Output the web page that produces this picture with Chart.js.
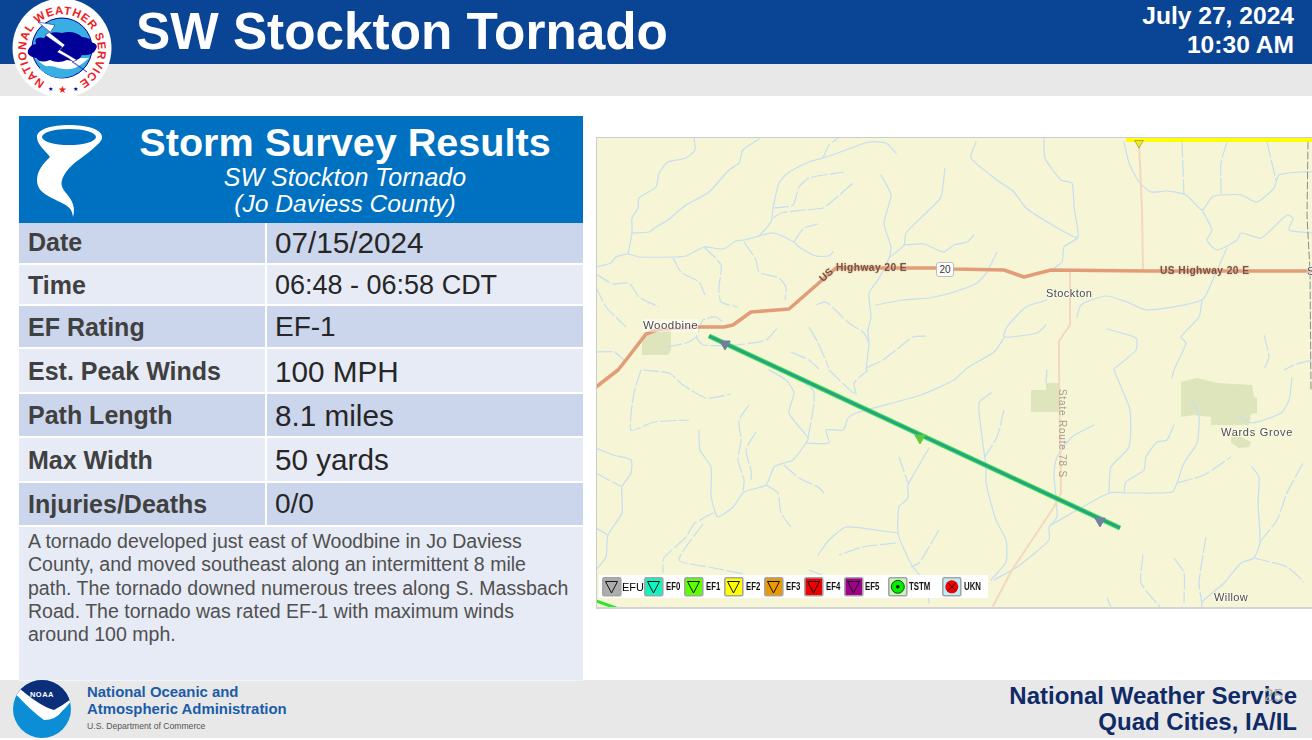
<!DOCTYPE html>
<html><head><meta charset="utf-8">
<script src="https://cdn.jsdelivr.net/npm/chart.js@4"></script>
<style>
html,body{margin:0;padding:0;background:#fff;width:1312px;height:740px;overflow:hidden;font-family:"Liberation Sans",Arial,sans-serif}
.a{position:absolute;white-space:nowrap}
.band{position:absolute;left:0;width:1312px}
.row{position:absolute;left:19px;width:564px}
.lab{position:absolute;left:28px;font-weight:bold;font-size:25px;color:#404040;white-space:nowrap}
.val{position:absolute;left:275px;font-size:29.7px;color:#262626;white-space:nowrap}
.desc{position:absolute;left:28px;font-size:19.55px;color:#505050;white-space:nowrap;line-height:21px}
.ml{position:absolute;white-space:nowrap;font-size:11.5px;color:#4a4a4a;letter-spacing:.45px;text-shadow:0 0 2px #fff,0 0 2px #fff,0 0 2px #fff;line-height:13px}
.hw{position:absolute;white-space:nowrap;font-size:10.2px;font-weight:bold;color:#75544a;letter-spacing:.45px;line-height:12px;text-shadow:0 0 2px #e8b090}
.leg{position:absolute;font-size:9px;font-weight:bold;color:#111;top:581px;line-height:12px;white-space:nowrap;transform:scale(.87,1.15);transform-origin:left center}
</style></head><body>

<div class="band" style="top:0;height:64px;background:#0A4595"></div>
<div class="band" style="top:64px;height:32px;background:#E8E8E8"></div>
<div class="a" style="left:136px;top:3px;font-size:51.3px;font-weight:bold;color:#fff;line-height:58px">SW Stockton Tornado</div>
<div class="a" style="right:18px;top:1px;font-size:24.6px;font-weight:bold;color:#fff;line-height:29px;text-align:right">July 27, 2024<br>10:30 AM</div>

<svg class="a" style="left:0;top:0" width="125" height="100" viewBox="0 0 125 100">
<circle cx="62" cy="48" r="49.5" fill="#fff"/>
<path id="ring" d="M45,82 A36,36 0 1 1 79,82" fill="none"/>
<text font-size="11.5" font-weight="bold" fill="#EE1C25" font-family="Liberation Sans"><textPath href="#ring" textLength="190" lengthAdjust="spacing">NATIONAL WEATHER SERVICE</textPath></text>
<circle cx="62" cy="48" r="30" fill="#39AEE3" stroke="#000099" stroke-width="1"/>
<path d="M35,58 Q62,84 89,58 Z" fill="#fff"/>
<path d="M39,68 Q50,64 58,68 Q68,71 84,66 Q74,78 62,78 Q48,78 39,68Z" fill="#39AEE3"/>
<path d="M28,50 Q31,44 36,44 Q33,36 44,38 Q50,30 62,33 Q74,30 82,37 Q92,38 91,42 Q99,44 96,49 Q93,56 82,55 Q78,63 67,60 Q58,64 50,60 Q40,64 36,58 Q26,56 28,50Z" fill="#000099"/>
<path d="M38,22 L55,25 L50,33 L65,45 L60,50 L77,60 L72,62 L87,72 L68,58 L57,52 L62,47 L45,35 L50,32Z" fill="#fff" stroke="#000099" stroke-width=".5"/>
<text x="62" y="93" font-size="10" fill="#EE1C25" text-anchor="middle">★</text>
<text x="50" y="91" font-size="6" fill="#000099" text-anchor="middle">★</text>
<text x="75" y="91" font-size="6" fill="#000099" text-anchor="middle">★</text>
</svg>

<div class="a" style="left:19px;top:116px;width:564px;height:107px;background:#0070C0"></div>
<div class="a" style="left:0;width:690px;text-align:center;top:119px;font-size:39.6px;font-weight:bold;color:#fff;line-height:46px">Storm Survey Results</div>
<div class="a" style="left:0;width:690px;text-align:center;top:164px;font-size:25px;font-style:italic;color:#fff;line-height:26px">SW Stockton Tornado<br><span style="font-size:24.6px">(Jo Daviess County)</span></div>
<svg class="a" style="left:30px;top:120px" width="80" height="102" viewBox="30 120 80 102">
<path d="M37,137 C37,129 52,125 69,125 C86,125 102,129 102,137 C102,141 99,143 96,146 C86,156 74,161 66,172 C60,181 60,186 66,193 C72,200 76,207 73,217 C72,208 68,206 60,202 C48,196 37,192 37,180 C37,170 44,163 50,157 C46,151 37,145 37,137Z" fill="#fff"/>
<ellipse cx="69" cy="137" rx="27" ry="8" fill="#0070C0"/>
</svg>

<div class="row" style="top:223px;height:40px;background:#CBD5EB"></div>
<div class="row" style="top:265px;height:39px;background:#E7EBF5"></div>
<div class="row" style="top:306px;height:41px;background:#CBD5EB"></div>
<div class="row" style="top:349px;height:43px;background:#E7EBF5"></div>
<div class="row" style="top:394px;height:42px;background:#CBD5EB"></div>
<div class="row" style="top:438px;height:43px;background:#E7EBF5"></div>
<div class="row" style="top:483px;height:42px;background:#CBD5EB"></div>
<div class="row" style="top:527px;height:153px;background:#E7EBF5"></div>
<div class="a" style="left:265px;top:223px;width:2px;height:302px;background:#fff"></div>

<div class="lab" style="top:228px">Date</div><div class="val" style="top:226px">07/15/2024</div>
<div class="lab" style="top:271px">Time</div><div class="val" style="top:270px;font-size:27px">06:48 - 06:58 CDT</div>
<div class="lab" style="top:313px">EF Rating</div><div class="val" style="top:311px;font-size:28px">EF-1</div>
<div class="lab" style="top:357px">Est. Peak Winds</div><div class="val" style="top:355px">100 MPH</div>
<div class="lab" style="top:401px">Path Length</div><div class="val" style="top:399px">8.1 miles</div>
<div class="lab" style="top:446px">Max Width</div><div class="val" style="top:443px">50 yards</div>
<div class="lab" style="top:490px">Injuries/Deaths</div><div class="val" style="top:488px;font-size:28px">0/0</div>

<div class="desc" style="top:531px">A tornado developed just east of Woodbine in Jo Daviess</div>
<div class="desc" style="top:554px">County, and moved southeast along an intermittent 8 mile</div>
<div class="desc" style="top:578px">path. The tornado downed numerous trees along S. Massbach</div>
<div class="desc" style="top:601px">Road. The tornado was rated EF-1 with maximum winds</div>
<div class="desc" style="top:624px">around 100 mph.</div>

<div class="a" id="map" style="left:596px;top:138px;width:716px;height:470px;background:#F6F5D5"><canvas id="c" width="716" height="470" style="display:block"></canvas></div>
<div class="a" style="left:596px;top:137px;width:716px;height:1px;background:#ccc"></div>
<div class="a" style="left:596px;top:607px;width:716px;height:2px;background:#d4d4d4"></div>
<div class="a" style="left:596px;top:137px;width:1px;height:471px;background:#ccc"></div>

<div class="ml" style="left:643px;top:319px;background:rgba(255,255,255,.45)">Woodbine</div>
<div class="ml" style="left:1046px;top:287px;font-size:11px">Stockton</div>
<div class="ml" style="left:1221px;top:426px;font-size:11px;letter-spacing:.7px">Wards Grove</div>
<div class="ml" style="left:1214px;top:591px;font-size:11px;letter-spacing:.4px">Willow</div>
<div class="ml" style="left:1307px;top:265px;font-size:11px">S</div>
<div class="hw" style="left:836px;top:262px">Highway 20 E</div>
<div class="hw" style="left:819px;top:269px;transform:rotate(-42deg)">US</div>
<div class="hw" style="left:1160px;top:265px">US Highway 20 E</div>
<div class="hw" style="left:1024px;top:421px;width:76px;text-align:center;transform:rotate(90deg);font-weight:normal;color:#a79a8e;text-shadow:none;font-size:10px;letter-spacing:.8px">State Route 78 S</div>
<div class="a" style="left:936px;top:262px;width:18px;height:15px;background:#fff;border:1px solid #bbb;border-radius:3px;font-size:10px;line-height:14px;text-align:center;color:#333;box-sizing:border-box">20</div>

<div class="a" style="left:599px;top:575px;width:389px;height:23px;background:#fff"></div>
<svg class="a" style="left:600px;top:575px" width="370" height="24" viewBox="600 575 370 24">
<defs><g id="t"><rect x=".8" y=".8" width="18" height="18" rx="1.5" stroke="#a5a5a5" stroke-width="1.6"/><path d="M3.5,4.5 H15.5 L9.5,16Z" fill="none" stroke="#111" stroke-width="1"/></g></defs>
<use href="#t" x="602" y="577" fill="#ACACAC"/>
<use href="#t" x="644" y="577" fill="#10F5C0"/>
<use href="#t" x="684" y="577" fill="#5CFF00"/>
<use href="#t" x="724" y="577" fill="#FFFF00"/>
<use href="#t" x="764" y="577" fill="#E89A00"/>
<use href="#t" x="804" y="577" fill="#EE0000"/>
<use href="#t" x="844" y="577" fill="#A0008A"/>
<rect x="888.8" y="577.8" width="18" height="18" rx="1.5" fill="#C9F5B8" stroke="#a5a5a5" stroke-width="1.6"/>
<circle cx="897.8" cy="586.8" r="6.5" fill="#00F000" stroke="#111" stroke-width=".8"/><circle cx="897.8" cy="586.8" r="1.8" fill="#111"/>
<rect x="942.8" y="577.8" width="18" height="18" rx="1.5" fill="#B8EEFB" stroke="#a5a5a5" stroke-width="1.6"/>
<circle cx="951.8" cy="586.8" r="6.5" fill="#F00000"/><path d="M948,583 L955.6,590.6 M955.6,583 L948,590.6" stroke="#111" stroke-width=".9"/>
</svg>
<div class="leg" style="left:622px;font-weight:normal;font-size:11px;color:#000;transform:none">EFU</div>
<div class="leg" style="left:666px">EF0</div><div class="leg" style="left:706px">EF1</div>
<div class="leg" style="left:746px">EF2</div><div class="leg" style="left:786px">EF3</div>
<div class="leg" style="left:826px">EF4</div><div class="leg" style="left:865px">EF5</div>
<div class="leg" style="left:909px">TSTM</div><div class="leg" style="left:964px">UKN</div>

<div class="band" style="top:680px;height:58px;background:#E8E8E8"></div>
<div class="a" style="left:19px;top:680px;width:564px;height:1px;background:#f4f4f8"></div>
<svg class="a" style="left:10px;top:680px" width="66" height="60" viewBox="10 680 66 60">
<defs><clipPath id="nc"><circle cx="42" cy="709" r="29"/></clipPath></defs>
<g clip-path="url(#nc)"><rect x="10" y="680" width="66" height="60" fill="#0B8ED6"/>
<path d="M10,680 H76 V695 Q62,712 50,712 Q35,706 10,692Z" fill="#0C2F7C"/>
<path d="M10,692 Q26,700 38,712 Q44,718 52,718 Q62,714 76,695 Q64,705 54,710 Q38,706 10,680Z" fill="#fff"/>
<path d="M14,692 Q30,710 44,720 Q56,720 62,711 Q50,712 42,708 Q28,700 14,692Z" fill="#fff"/></g>
<text x="42" y="697" font-size="7.5" font-weight="bold" fill="#fff" text-anchor="middle" letter-spacing=".5">NOAA</text>
</svg>
<div class="a" style="left:87px;top:684px;font-size:14.9px;font-weight:bold;color:#1A5CA8;line-height:17px">National Oceanic and<br>Atmospheric Administration</div>
<div class="a" style="left:87px;top:721px;font-size:8.65px;color:#555;line-height:10px">U.S. Department of Commerce</div>
<div class="a" style="right:15px;top:683px;text-align:right;font-size:24px;font-weight:bold;color:#0F2A66;line-height:26px">National Weather Service<br>Quad Cities, IA/IL</div>
<div class="a" style="left:1264px;top:687px;font-size:17px;color:#aaa;line-height:18px">25</div>

<script>
// Map layers, in map grid units
const river01=[[694,138],[695,150],[686,158],[668,162],[659,173],[656,187],[639,198],[638,208],[632,218],[632,233],[628,254]];
const river02=[[596,267],[611,263],[616,257],[628,254],[639,257],[673,257],[686,256],[704,247],[723,249],[736,241],[744,240],[759,236],[774,233],[794,242],[799,247],[816,256],[829,256],[833,252]];
const river03=[[759,236],[771,222],[773,208],[779,183],[788,173],[809,162],[823,158],[846,150],[869,142],[886,143],[896,153]];
const river04=[[773,218],[781,213],[803,210],[823,208],[836,198],[853,183]];
const river05=[[773,208],[793,205],[799,187],[809,178],[844,172]];
const river06=[[632,233],[649,232],[656,227],[668,220],[686,205],[709,192],[729,170],[739,163],[743,150],[759,139]];
const river07=[[823,158],[829,145],[838,138]];
const river08=[[794,242],[804,228],[818,224]];
const river09=[[744,242],[756,260],[759,272],[779,278],[786,287],[785,300]];
const river10=[[704,247],[721,265],[719,287],[721,302],[738,307]];
const river11=[[673,258],[681,272],[699,282],[705,295]];
const river12=[[596,274],[613,284],[629,283],[639,297],[659,307]];
const river13=[[596,287],[606,307],[626,327]];
const river14=[[881,175],[891,195],[884,223],[891,247],[889,258],[878,280],[869,293],[871,317],[868,330],[869,343],[866,370]];
const river15=[[889,258],[904,245],[906,233],[929,210],[941,197],[945,168]];
const river16=[[904,245],[924,244],[943,252],[954,245],[967,242],[974,235]];
const river17=[[876,305],[903,300],[929,298],[954,292],[977,283],[987,272],[997,252]];
const river18=[[816,305],[826,302],[849,323],[864,333],[869,343]];
const river19=[[809,327],[818,343],[829,368]];
const river20=[[791,352],[809,360],[819,369]];
const river21=[[866,368],[883,360],[896,350],[913,337],[926,336]];
const river22=[[666,347],[686,343],[696,337],[703,320],[716,317],[724,323]];
const river23=[[696,337],[703,345],[736,345],[766,340],[778,327]];
const river24=[[596,352],[614,352],[624,360]];
const river25=[[976,142],[971,158],[997,180],[1014,192],[1026,208],[1049,223],[1074,237],[1077,237]];
const river26=[[1044,138],[1045,158],[1061,180],[1072,183],[1074,207],[1078,237],[1064,247],[1062,262],[1051,270]];
const river27=[[1124,142],[1129,163],[1139,182],[1151,192],[1167,191],[1186,195],[1202,210],[1212,197],[1221,195],[1241,195],[1257,202],[1274,188],[1279,175],[1301,172],[1312,172]];
const river28=[[1182,142],[1184,195]];
const river29=[[1227,142],[1221,163],[1221,195]];
const river30=[[1267,142],[1276,180]];
const river31=[[1202,210],[1212,230],[1207,240],[1217,250],[1237,240],[1241,233],[1261,238],[1274,227],[1287,215],[1293,218],[1289,230],[1312,233]];
const river32=[[1227,248],[1214,277],[1202,300],[1147,310],[1127,302],[1106,296],[1081,305],[1077,317]];
const river33=[[1202,300],[1199,317],[1181,337],[1186,343],[1174,370],[1172,378]];
const river34=[[1047,300],[1026,307],[1007,327],[1004,337],[1037,333],[1046,325]];
const river35=[[1004,338],[994,352],[967,368],[954,380],[921,395],[896,402],[856,413],[848,418],[843,430],[826,430],[829,443],[806,443]];
const river36=[[1107,329],[1136,338],[1136,350],[1114,369],[1114,370],[1121,387],[1130,410],[1129,447],[1111,467],[1109,493]];
const river37=[[1264,335],[1269,357],[1264,369]];
const river38=[[1312,360],[1294,365],[1284,370]];
const river39=[[641,370],[634,393],[631,430],[654,422],[689,420]];
const river40=[[596,448],[613,455],[631,460],[631,473],[622,487],[622,513],[608,535],[606,557],[596,570]];
const river41=[[596,473],[622,487]];
const river42=[[596,528],[608,535]];
const river43=[[643,370],[669,373],[683,385],[706,398],[731,394]];
const river44=[[699,430],[700,450],[711,467],[711,495],[715,512],[718,517],[733,507],[744,492],[766,485],[774,467],[784,463],[793,460],[806,443],[808,438],[789,413],[794,393],[786,380],[769,370]];
const river45=[[808,438],[814,403],[813,390],[796,377]];
const river46=[[749,405],[739,420],[741,440],[738,460],[744,480],[743,492]];
const river47=[[756,432],[746,450],[751,470],[751,480]];
const river48=[[829,370],[856,395],[854,383],[868,370]];
const river49=[[784,465],[799,478],[818,487],[824,493]];
const river50=[[766,485],[778,493],[781,513],[791,527]];
const river51=[[713,513],[694,524],[686,537],[664,558],[663,573]];
const river52=[[703,524],[679,560],[709,567],[744,574]];
const river53=[[929,448],[918,467],[908,485],[908,498],[899,507],[898,533],[903,547],[913,567],[926,583],[929,603]];
const river54=[[899,457],[908,483]];
const river55=[[898,533],[876,530],[846,527],[829,540],[818,555]];
const river56=[[896,543],[863,547],[839,555]];
const river57=[[939,530],[929,547],[919,563],[911,567]];
const river58=[[809,570],[829,578]];
const river59=[[991,393],[979,403],[982,437],[986,467],[986,483],[996,520],[1006,540],[1006,562],[991,580]];
const river60=[[1004,410],[997,437],[984,458]];
const river61=[[1047,370],[1046,383]];
const river62=[[1094,425],[1072,437],[1057,457],[1054,473],[1057,517],[1049,527],[1049,540],[1017,567],[994,580]];
const river63=[[1051,525],[1109,493],[1131,493],[1172,492],[1177,483],[1184,463],[1197,443],[1199,417],[1192,398]];
const river64=[[1124,493],[1126,482],[1144,470],[1146,457],[1157,442],[1167,440],[1174,425]];
const river65=[[1177,483],[1204,475],[1231,457]];
const river66=[[1252,467],[1259,477],[1258,503],[1260,542],[1254,558],[1241,563],[1224,583],[1202,602],[1202,608]];
const river67=[[1254,558],[1287,567],[1304,582]];
const river68=[[1260,542],[1277,520],[1287,493],[1303,463]];
const river69=[[1206,537],[1199,583],[1202,603]];
const river70=[[1174,558],[1184,573],[1184,603]];
const river71=[[1143,555],[1141,583],[1161,608]];
const river72=[[1292,378],[1289,400],[1281,413],[1252,423],[1237,415]];
const river73=[[1107,598],[1111,607]];
const riverPaths=[river01,river02,river03,river06,river14,river15,river16,river17,river25,river26,river27,river31,river32,river33,river34,river35,river36,river40,river44,river53,river55,river59,river62,river63,river64,river66,river72];
const creekPaths=[river04,river05,river07,river08,river09,river10,river11,river12,river13,river18,river19,river20,river21,river22,river23,river24,river28,river29,river30,river37,river38,river39,river41,river42,river43,river45,river46,river47,river48,river49,river50,river51,river52,river54,river56,river57,river58,river60,river61,river65,river67,river68,river69,river70,river71,river73];

const highway20=[[596,387],[618,370],[626,360],[646,334],[659,329],[699,327],[724,327],[733,325],[751,312],[789,309],[836,268],[936,268],[954,269],[1004,270],[1024,277],[1051,270],[1144,271],[1312,271]];
const route78=[[1070,272],[1070,325],[1059,341],[1059,370],[1061,493],[1054,507],[1012,570],[992,608]];
const northRoad=[[1139,143],[1142,210],[1143,270]];
const countyLine=[[1308,142],[1307,216],[1310,271],[1311,390]];

const parkWards=[[1181,382],[1197,378],[1217,383],[1252,385],[1254,397],[1257,398],[1257,413],[1251,414],[1249,425],[1211,425],[1211,417],[1194,415],[1181,417],[1181,382]];
const parkWardsSouth=[[1231,437],[1241,437],[1251,442],[1249,447],[1239,448],[1231,443],[1231,437]];
const parkStockton=[[1031,390],[1046,390],[1046,383],[1059,383],[1059,412],[1031,412],[1031,390]];
const parkWoodbine=[[671,330],[671,350],[668,355],[642,355],[642,343],[646,334],[659,330],[671,330]];
const parkPaths=[parkWards,parkWardsSouth,parkStockton,parkWoodbine];

const tornadoTrack=[[709,336],[1120,528]];
const trackPoints=[[725,344],[920,438],[1100,521]];
const trackPointColors=['#6E7F9E','#5FC93F','#7480A0'];
const warningTop=[[1126,140],[1312,140]];
const warningTopPoint=[[1139,143]];
const warningBottom=[[596,601],[616,608]];

const xy=a=>a.map(([x,y])=>({x,y}));
const line=(data,color,width,extra={})=>Object.assign({data:xy(data),borderColor:color,borderWidth:width,pointRadius:0,showLine:true,fill:false,borderCapStyle:'round',borderJoinStyle:'round'},extra);

const datasets=[
  {data:xy(trackPoints),pointStyle:'triangle',rotation:180,pointRadius:6,pointBackgroundColor:trackPointColors,pointBorderColor:trackPointColors,showLine:false},
  {data:xy(warningTopPoint),pointStyle:'triangle',rotation:180,pointRadius:5,pointBackgroundColor:'#F4F000',pointBorderColor:'#777',pointBorderWidth:.6,showLine:false},
  line(tornadoTrack,'#2C9E86',3,{borderCapStyle:'butt'}),
  line(tornadoTrack,'#34E352',5,{borderCapStyle:'butt'}),
  line(warningTop,'#FFFF00',4,{borderCapStyle:'butt'}),
  line(warningBottom,'#2CE62C',3),
  line(countyLine,'#8a8a8a',1,{borderDash:[7,3]}),
  line(highway20,'#E29D78',3.6),
  line(route78,'#F3D9BC',2),
  line(northRoad,'#F3D9BC',2),
  ...riverPaths.map(p=>line(p,'#C6DEF2',1.2,{tension:.2})),
  ...creekPaths.map(p=>line(p,'#C6DEF2',1.2,{tension:.2,borderDash:[16,2.5],borderCapStyle:'butt'})),
  ...parkPaths.map(p=>line(p,'rgba(0,0,0,0)',0,{fill:'shape',backgroundColor:'#DEE5BC'}))
];

new Chart(document.getElementById('c'),{
  type:'scatter',
  data:{datasets},
  options:{
    responsive:false,animation:false,devicePixelRatio:1,
    layout:{padding:0,autoPadding:false},
    plugins:{legend:{display:false},tooltip:{enabled:false}},
    scales:{
      x:{type:'linear',min:596,max:1312,display:false},
      y:{type:'linear',min:138,max:608,reverse:true,display:false}
    }
  }
});
</script>
</body></html>
